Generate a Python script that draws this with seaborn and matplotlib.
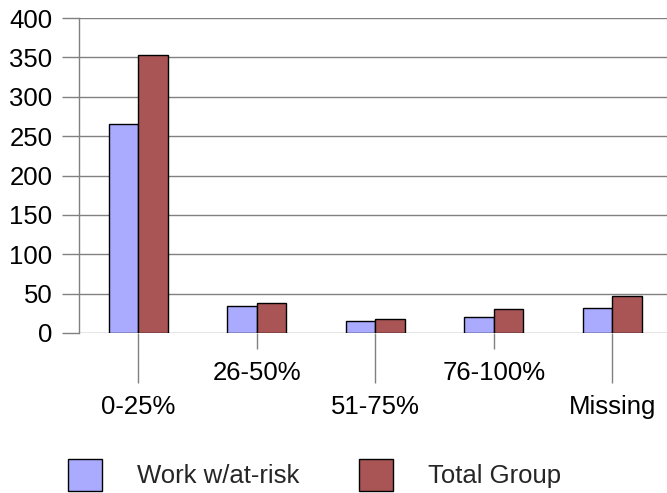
import matplotlib
matplotlib.use('Agg')
import matplotlib.pyplot as plt
import seaborn as sns
import pandas as pd

categories = ['0-25%', '26-50%', '51-75%', '76-100%', 'Missing']
work_at_risk = [265, 34, 15, 20, 32]
total_group = [353, 38, 18, 30, 47]
series_names = ['Work w/at-risk', 'Total Group']
colors = ['#aaaaff', '#aa5555']

df = pd.DataFrame({
    'category': categories * 2,
    'value': work_at_risk + total_group,
    'series': [series_names[0]] * len(categories) + [series_names[1]] * len(categories),
})

sns.set_style('white')
plt.rcParams['font.family'] = ['Liberation Sans', 'DejaVu Sans']

fs = 18.5
grid_col = '#808080'

fig = plt.figure(figsize=(6.67, 4.93), dpi=100)
ax = fig.add_axes([79 / 667, 1 - 333 / 493, 592.5 / 667, 315 / 493])

sns.barplot(data=df, x='category', y='value', hue='series', palette=colors,
            width=0.5, edgecolor='black', linewidth=1, saturation=1, ax=ax)

# y axis: gridlines every 50
ax.set_ylim(0, 400)
ax.set_yticks(range(0, 401, 50))
ax.yaxis.grid(True, color=grid_col, linewidth=1)
ax.set_axisbelow(True)
ax.set_xlim(-0.5, len(categories) - 0.5)
ax.set_xlabel('')
ax.set_ylabel('')

for side in ['top', 'right', 'bottom']:
    ax.spines[side].set_visible(False)
ax.spines['left'].set_color(grid_col)
ax.spines['left'].set_linewidth(1)

# staggered category labels: long ticks for even, short ticks for odd
even = list(range(0, len(categories), 2))
odd = list(range(1, len(categories), 2))
ax.set_xticks(even, labels=[categories[i] for i in even])
ax.set_xticks(odd, labels=[categories[i] for i in odd], minor=True)
ax.tick_params(axis='x', which='major', length=36, pad=8.5)
ax.tick_params(axis='x', which='minor', length=11.5, pad=8.5)
ax.tick_params(axis='x', which='both', bottom=True, color=grid_col, width=1,
               labelsize=fs, labelcolor='black')
ax.tick_params(axis='y', left=True, length=12, pad=7, color=grid_col, width=1,
               labelsize=fs, labelcolor='black')

handles, labels = ax.get_legend_handles_labels()
ax.get_legend().remove()
fig.legend(handles, labels, loc='center left', bbox_to_anchor=(68 / 667, 1 - 475 / 493),
           ncol=2, frameon=False, fontsize=fs, handlelength=1.32, handleheight=1.5,
           handletextpad=1.36, columnspacing=2.33, borderpad=0, borderaxespad=0)

plt.savefig('out.png', dpi=100)
